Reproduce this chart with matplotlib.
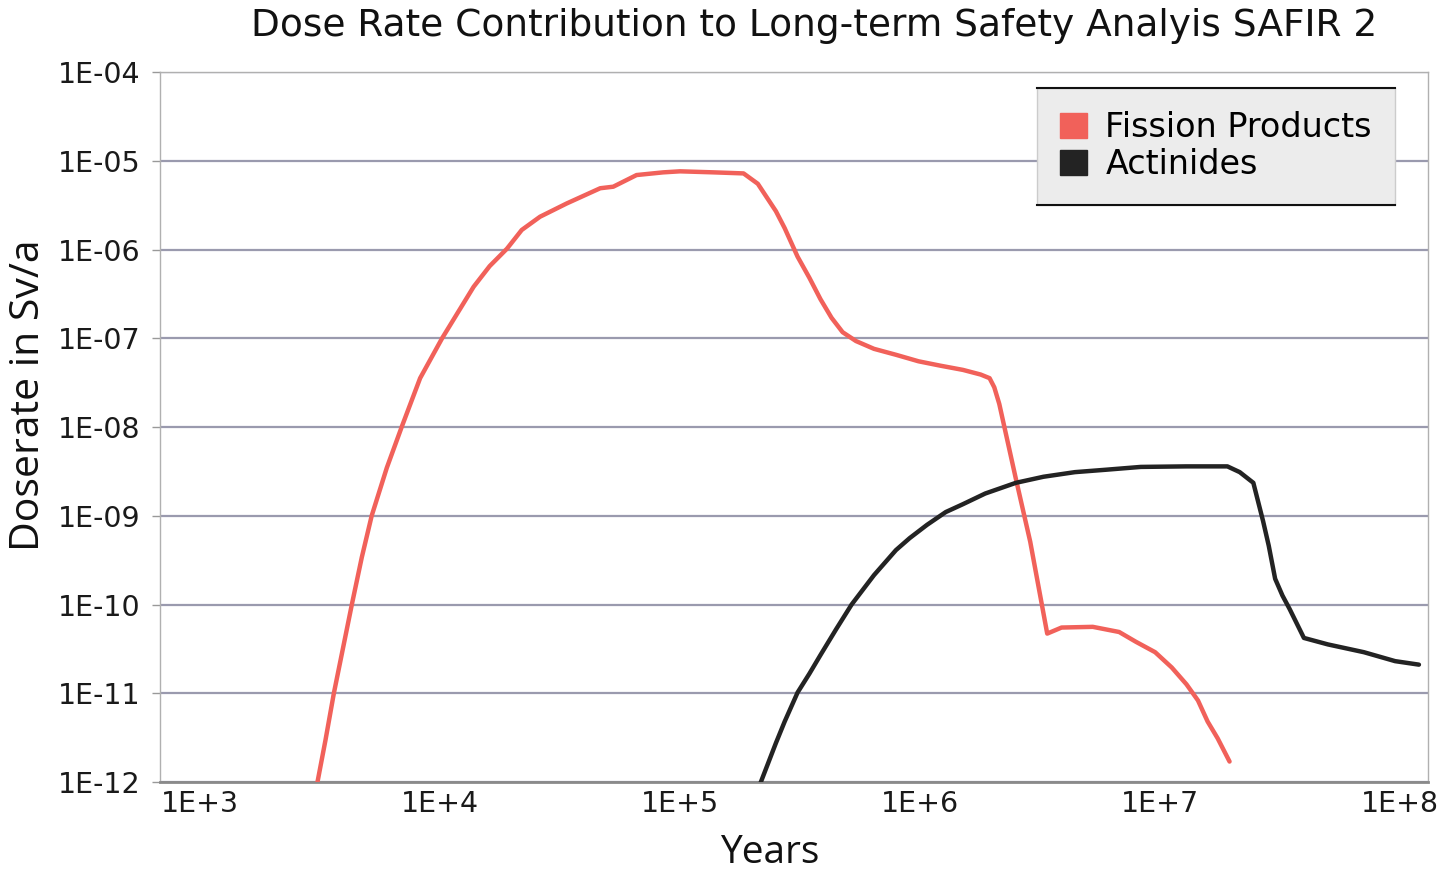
import numpy as np
import matplotlib
matplotlib.use("Agg")
import matplotlib.pyplot as plt
from matplotlib.patches import Patch
from matplotlib.lines import Line2D

# values (years, Sv/a)
fission_years = [3060, 3330, 3610, 4290, 4720, 5190, 6000, 6920, 8260, 1.02e4,
                 1.38e4, 1.61e4, 1.90e4, 2.19e4, 2.61e4, 3.37e4, 4.65e4, 5.27e4, 6.59e4,
                 8.51e4, 1.0e5, 1.38e5, 1.84e5, 2.11e5, 2.51e5, 2.73e5, 3.09e5,
                 3.46e5, 3.85e5, 4.28e5, 4.76e5, 5.41e5, 6.43e5, 7.96e5, 9.86e5, 1.22e6, 1.51e6,
                 1.79e6, 1.95e6, 2.04e6, 2.14e6, 2.51e6, 2.88e6, 3.39e6, 3.89e6, 5.25e6, 6.76e6,
                 7.94e6, 9.55e6, 1.12e7, 1.29e7, 1.44e7, 1.58e7, 1.74e7, 1.95e7]
fission_dose = [8.9e-13, 2.95e-12, 1.0e-11, 1.0e-10, 3.4e-10, 1.0e-9, 3.47e-9, 1.0e-8, 3.55e-8, 1.0e-7,
                3.8e-7, 6.5e-7, 1.02e-6, 1.66e-6, 2.34e-6, 3.3e-6, 4.9e-6, 5.1e-6, 6.9e-6,
                7.4e-6, 7.6e-6, 7.4e-6, 7.2e-6, 5.5e-6, 2.7e-6, 1.74e-6, 8.3e-7,
                4.8e-7, 2.75e-7, 1.7e-7, 1.17e-7, 9.3e-8, 7.6e-8, 6.5e-8, 5.5e-8, 4.9e-8, 4.4e-8,
                3.9e-8, 3.55e-8, 2.8e-8, 1.82e-8, 2.6e-9, 5.1e-10, 4.7e-11, 5.5e-11, 5.6e-11, 4.9e-11,
                3.8e-11, 2.9e-11, 1.95e-11, 1.26e-11, 8.3e-12, 4.8e-12, 3.1e-12, 1.7e-12]

actinide_years = [2.15e5, 2.51e5, 2.73e5, 3.09e5, 3.46e5, 3.85e5, 4.47e5, 5.19e5, 6.43e5, 7.94e5,
                  9.06e5, 1.07e6, 1.28e6, 1.51e6, 1.87e6, 2.51e6, 3.27e6, 4.42e6, 5.96e6, 8.32e6,
                  1.29e7, 1.91e7, 2.15e7, 2.45e7, 2.69e7, 2.84e7, 3.02e7, 3.24e7, 3.47e7, 3.98e7,
                  5.01e7, 7.08e7, 9.55e7, 1.2e8]
actinide_dose = [9.3e-13, 2.75e-12, 4.8e-12, 1.02e-11, 1.66e-11, 2.7e-11, 5.25e-11, 1.0e-10, 2.14e-10, 4.1e-10,
                 5.6e-10, 7.9e-10, 1.1e-9, 1.35e-9, 1.78e-9, 2.35e-9, 2.75e-9, 3.1e-9, 3.3e-9, 3.55e-9,
                 3.6e-9, 3.6e-9, 3.1e-9, 2.35e-9, 8.7e-10, 4.6e-10, 1.95e-10, 1.26e-10, 8.9e-11, 4.2e-11,
                 3.55e-11, 2.9e-11, 2.3e-11, 2.1e-11]

x_ticks = [1e3, 1e4, 1e5, 1e6, 1e7, 1e8]
x_labels = ["1E+3", "1E+4", "1E+5", "1E+6", "1E+7", "1E+8"]
y_ticks = [1e-12, 1e-11, 1e-10, 1e-9, 1e-8, 1e-7, 1e-6, 1e-5, 1e-4]
y_labels = ["1E-12", "1E-11", "1E-10", "1E-09", "1E-08", "1E-07", "1E-06", "1E-05", "1E-04"]

red = "#f1615a"
black = "#232323"
W, H = 1451, 872

fig = plt.figure(figsize=(W / 100, H / 100), dpi=100)
ax = fig.add_axes([160 / W, 1 - 782 / H, 1268 / W, 710 / H])

ax.plot(fission_years, fission_dose, color=red, lw=3.2, solid_joinstyle="round",
        solid_capstyle="round", zorder=3)
ax.plot(actinide_years, actinide_dose, color=black, lw=3.2, solid_joinstyle="round",
        solid_capstyle="round", zorder=3)

ax.set_xscale("log")
ax.set_yscale("log")
ax.set_xlim(10 ** 2.833, 10 ** 8.117)
ax.set_ylim(1e-12, 1e-4)

ax.set_xticks(x_ticks)
ax.set_xticklabels(x_labels, fontsize=20.5, color="#1a1a1a")
ax.set_yticks(y_ticks)
ax.set_yticklabels(y_labels, fontsize=20.5, color="#1a1a1a")
ax.minorticks_off()
ax.tick_params(axis="x", length=0, pad=6)
ax.tick_params(axis="y", length=6, width=1, color="#999999", pad=8)

ax.yaxis.grid(True, color="#9a9aae", lw=1.6)
ax.set_axisbelow(True)
for side in ["left", "right", "top"]:
    ax.spines[side].set_color("#b0b0b0")
    ax.spines[side].set_linewidth(1.0)
ax.spines["bottom"].set_color("#8a8a8a")
ax.spines["bottom"].set_linewidth(2.0)

fig.text(814 / W, 1 - 26 / H, "Dose Rate Contribution to Long-term Safety Analyis SAFIR 2",
         ha="center", va="center", fontsize=27, color="#111111")
fig.text(29 / W, 1 - 395 / H, "Doserate in Sv/a", rotation=90, ha="center", va="center",
         fontsize=29.5, family="Open Sans", color="#111111")
fig.text(770 / W, 1 - 853 / H, "Years", ha="center", va="center", fontsize=28,
         family="Open Sans", color="#111111")

# legend box: grey fill, light sides, dark rules at top and bottom
handles = [Patch(facecolor=red, edgecolor=red, label="Fission Products"),
           Patch(facecolor=black, edgecolor=black, label="Actinides")]
leg = ax.legend(handles=handles, loc="upper left",
                bbox_to_anchor=(1037 / W, 1 - 88 / H), bbox_transform=fig.transFigure,
                fontsize=24, handlelength=0.8, handleheight=0.8, handletextpad=0.55,
                labelspacing=0.12, borderpad=0.7, borderaxespad=0,
                fancybox=False, framealpha=1, facecolor="#ececec", edgecolor="#cccccc")
leg.get_frame().set_linewidth(1.0)

fig.canvas.draw()
bb = leg.get_window_extent().transformed(fig.transFigure.inverted())
for yy in [bb.y0, bb.y1]:
    fig.add_artist(Line2D([bb.x0, bb.x1], [yy, yy], transform=fig.transFigure,
                          color="#111111", lw=1.5, zorder=10))

fig.savefig("out.png", dpi=100)
